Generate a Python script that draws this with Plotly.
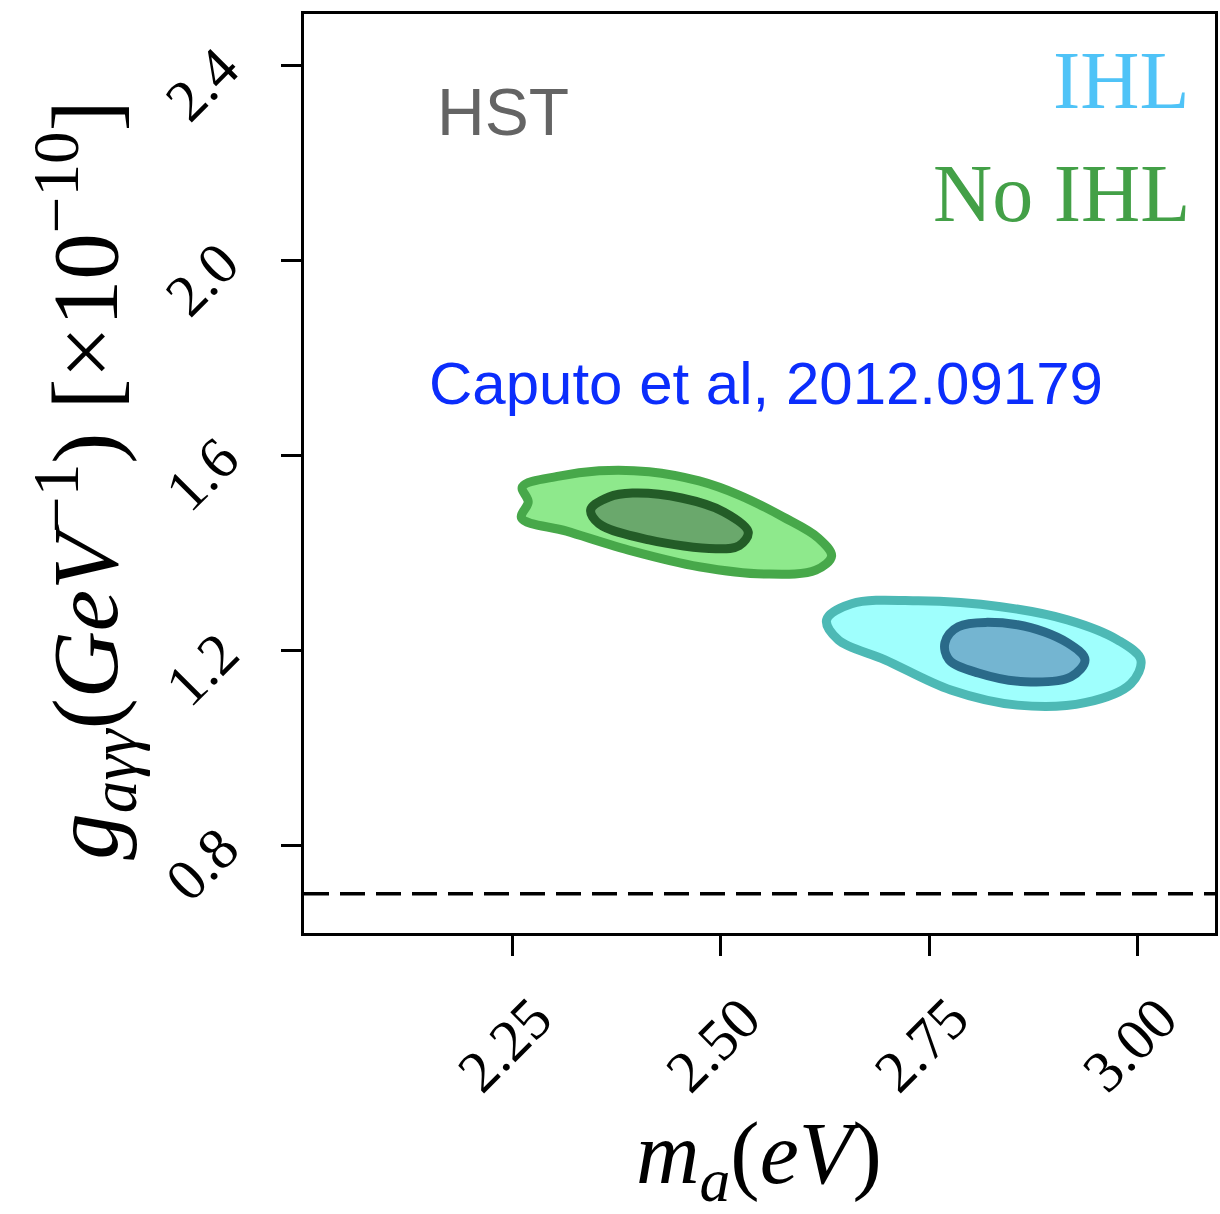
import plotly.graph_objects as go

# ---------------- data ----------------
# No IHL, outer (2 sigma) contour
noihl_outer_m = [2.262, 2.306, 2.354, 2.414, 2.474, 2.522, 2.575, 2.617, 2.633, 2.614,
                 2.554, 2.474, 2.394, 2.315, 2.261, 2.269, 2.262]
noihl_outer_g = [1.535, 1.557, 1.568, 1.566, 1.547, 1.518, 1.473, 1.430, 1.393, 1.364,
                 1.356, 1.371, 1.403, 1.444, 1.471, 1.504, 1.535]
# No IHL, inner (1 sigma) contour
noihl_inner_m = [2.344, 2.366, 2.394, 2.453, 2.504, 2.533, 2.522, 2.494, 2.414, 2.354, 2.344]
noihl_inner_g = [1.488, 1.514, 1.522, 1.512, 1.483, 1.442, 1.414, 1.408, 1.426, 1.459, 1.488]
# IHL, outer contour
ihl_outer_m = [2.627, 2.657, 2.737, 2.836, 2.916, 2.976, 3.004, 2.992, 2.937, 2.856,
               2.776, 2.697, 2.641, 2.627]
ihl_outer_g = [1.262, 1.295, 1.301, 1.289, 1.262, 1.221, 1.180, 1.131, 1.092, 1.087,
               1.118, 1.180, 1.221, 1.262]
# IHL, inner contour
ihl_inner_m = [2.769, 2.785, 2.856, 2.916, 2.937, 2.920, 2.865, 2.809, 2.774, 2.769]
ihl_inner_g = [1.215, 1.248, 1.252, 1.215, 1.180, 1.145, 1.135, 1.153, 1.180, 1.215]

limit_g = 0.7  # dashed horizontal bound

x_ticks = [2.25, 2.50, 2.75, 3.00]
x_ticktext = ["2.25", "2.50", "2.75", "3.00"]
y_ticks = [0.8, 1.2, 1.6, 2.0, 2.4]
y_ticktext = ["0.8", "1.2", "1.6", "2.0", "2.4"]

x_range = [2.0, 3.093]
y_range = [0.6195, 2.505]

label_hst = "HST"
label_ihl = "IHL"
label_noihl = "No IHL"
label_ref = "Caputo et al, 2012.09179"
x_title = "<i>m</i><sub><i>a</i></sub>(<i>eV</i>)"
y_title = "<i>g</i><sub><i>aγγ</i></sub>(<i>GeV</i><sup>−1</sup>) [×10<sup>−10</sup>]"

# ---------------- figure ----------------
fig = go.Figure()

def contour(m, g, fill, line):
    fig.add_trace(go.Scatter(
        x=m, y=g, mode="lines", fill="toself", fillcolor=fill,
        line=dict(color=line, width=9, shape="spline", smoothing=1.0),
        hoverinfo="skip", showlegend=False))

contour(noihl_outer_m, noihl_outer_g, "#8ee98c", "#47a84a")
contour(noihl_inner_m, noihl_inner_g, "#6aa86c", "#235c27")
contour(ihl_outer_m, ihl_outer_g, "#9ffffd", "#4db9b5")
contour(ihl_inner_m, ihl_inner_g, "#74b5d1", "#2a6a89")

fig.add_shape(type="line", xref="x domain", x0=0, x1=1, yref="y", y0=limit_g, y1=limit_g,
              line=dict(color="black", width=3.5, dash="25px,11px"))

serif = "Liberation Serif, Times New Roman, serif"
sans = "Liberation Sans, Arial, sans-serif"

def note(text, x, y, font, xanchor="center", angle=0):
    fig.add_annotation(text=text, xref="paper", yref="paper", x=x, y=y,
                       xanchor=xanchor, yanchor="middle", textangle=angle,
                       showarrow=False, font=font)

note(label_hst, 0.218, 0.893, dict(family=sans, size=66, color="#646464"))
note(label_ihl, 0.975, 0.928, dict(family=serif, size=82, color="#4fc3f7"), xanchor="right")
note(label_noihl, 0.975, 0.805, dict(family=serif, size=82, color="#43a047"), xanchor="right")
note(label_ref, 0.5066, 0.598, dict(family=sans, size=60, color="#0b2dfc"))
note(x_title, 0.499, -0.246, dict(family=serif, size=88, color="black"))
note(y_title, -0.2396, 0.493, dict(family=serif, size=93, color="black"), angle=-90)

axis_common = dict(showgrid=False, zeroline=False, showline=True, linecolor="black",
                   linewidth=3, mirror=True, ticks="outside", ticklen=20, tickwidth=3,
                   tickcolor="black", tickangle=-45,
                   tickfont=dict(family=serif, size=59, color="black"))

fig.update_xaxes(range=x_range, tickvals=x_ticks, ticktext=x_ticktext,
                 ticklabelshift=22, ticklabelstandoff=4, **axis_common)
fig.update_yaxes(range=y_range, tickvals=y_ticks, ticktext=y_ticktext,
                 ticklabelshift=-5, ticklabelstandoff=48, **axis_common)

fig.update_layout(width=1220, height=1214, margin=dict(l=304, r=2, t=14, b=281),
                  plot_bgcolor="white", paper_bgcolor="white", hovermode=False,
                  showlegend=False)

fig.write_html("out.html", config={"displayModeBar": False},
               post_script="document.body.style.margin='0';document.body.style.overflow='hidden';")
